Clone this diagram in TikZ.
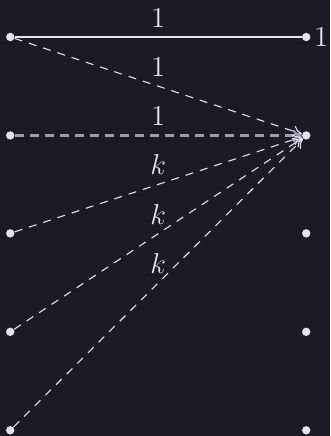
\documentclass[tikz,border=0pt]{standalone}
\usetikzlibrary{arrows.meta,positioning}
\definecolor{GraphBg}{HTML}{1B1A26}
\definecolor{GraphInk}{HTML}{E4E2F0}
\definecolor{GraphGrey}{HTML}{9E9CAE}

\begin{document}
\begin{tikzpicture}[
      >={To[length=1.6mm,width=2mm]},
      font=\Large,text=GraphInk,
      vertex/.style={circle,fill=GraphInk,inner sep=0pt,minimum size=4.2pt},
      tight/.style={draw=GraphInk,line width=0.7pt},
      loose/.style={->,draw=GraphInk,line width=0.55pt,dash pattern=on 4pt off 3.5pt},
      plain/.style={->,draw=GraphGrey,line width=1.1pt,dash pattern=on 4.5pt off 3pt},
      weight/.style={above=2.5pt,inner sep=2pt}
    ]
    \fill[GraphBg] (0,0) rectangle (5.80,7.66);
    \path[use as bounding box] (0,0) rectangle (5.80,7.66);

    \node[vertex] (l1) at (0.18,7.01) {};
    \node[vertex] (l2) at (0.18,5.28) {};
    \node[vertex] (l3) at (0.18,3.56) {};
    \node[vertex] (l4) at (0.18,1.83) {};
    \node[vertex] (l5) at (0.18,0.10) {};
    \node[vertex] (r1) at (5.38,7.01) {};
    \node[vertex] (r2) at (5.38,5.28) {};
    \node[vertex] (r3) at (5.38,3.56) {};
    \node[vertex] (r4) at (5.38,1.83) {};
    \node[vertex] (r5) at (5.38,0.10) {};
    \node[right=0.5pt of r1,inner sep=1pt] (rtag) {1};

    \draw[tight] (l1) -- (r1) node[midway,weight] {1};
    \draw[loose] (l1) -- (r2) node[midway,weight] {1};
    \draw[plain] (l2) -- (r2) node[midway,weight] {1};
    \draw[loose] (l3) -- (r2) node[midway,weight] {$k$};
    \draw[loose] (l4) -- (r2) node[midway,weight] {$k$};
    \draw[loose] (l5) -- (r2) node[midway,weight] {$k$};
  \end{tikzpicture}
\end{document}
